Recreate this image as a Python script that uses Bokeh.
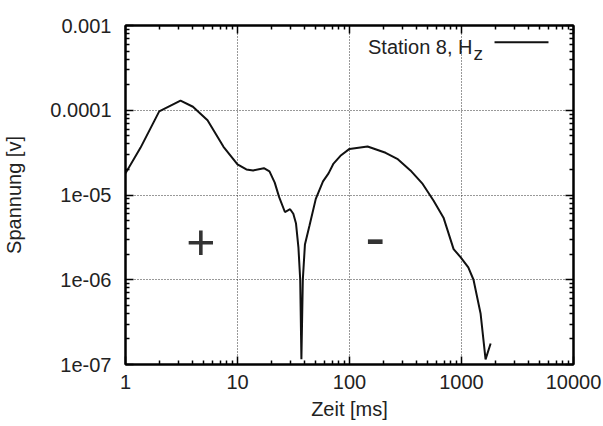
import math
from bokeh.plotting import figure
from bokeh.models import FixedTicker, LogAxis, CustomJSTickFormatter
from bokeh.core.properties import value
from bokeh.embed import file_html
from bokeh.resources import INLINE

# ---- data ----
zeit_ms = [1.0, 1.36, 2.0, 3.1, 4.0, 5.4, 7.5, 10.0, 12.0, 13.8, 17.2, 19.3, 21.5, 23.5,
           26.5, 29.5, 31.5, 33.3, 35.0, 36.3, 37.2, 38.3, 40.0, 44.0, 50.0, 58.0, 65.0,
           72.0, 83.0, 100.0, 145.0, 210.0, 267.0, 350.0, 450.0, 562.0, 691.0, 850.0,
           980.0, 1150.0, 1280.0, 1480.0, 1640.0, 1820.0]
spannung_v = [1.8e-5, 3.6e-5, 9.7e-5, 1.3e-4, 1.1e-4, 7.6e-5, 3.7e-5, 2.3e-5, 2.0e-5, 1.95e-5,
              2.07e-5, 1.9e-5, 1.4e-5, 9.5e-6, 6.3e-6, 6.8e-6, 6.0e-6, 4.6e-6, 2.4e-6, 1.0e-6,
              1.15e-7, 1.0e-6, 2.6e-6, 4.4e-6, 9.0e-6, 1.45e-5, 1.8e-5, 2.35e-5, 2.9e-5, 3.5e-5,
              3.73e-5, 3.15e-5, 2.67e-5, 1.95e-5, 1.35e-5, 8.6e-6, 5.4e-6, 2.3e-6, 1.85e-6,
              1.4e-6, 1.0e-6, 4.0e-7, 1.15e-7, 1.77e-7]

x_tick_values = [1, 10, 100, 1000, 10000]
x_tick_labels = ["1", "10", "100", "1000", "10000"]
y_tick_values = [1e-7, 1e-6, 1e-5, 1e-4, 1e-3]
y_tick_labels = ["1e-07", "1e-06", "1e-05", "0.0001", "0.001"]

x_title = "Zeit [ms]"
y_title = "Spannung [v]"
series_label = "Station 8, H"
series_sub = "z"
sign_labels = ["+", "-"]
sign_x = [4.7, 170.0]
sign_y = [2.8e-6, 3.2e-6]

FONT = "Liberation Sans"
TXT = "#222222"

p = figure(width=603, height=426, x_axis_type="log", y_axis_type="log",
           x_range=(x_tick_values[0], x_tick_values[-1]),
           y_range=(y_tick_values[0], y_tick_values[-1]),
           output_backend="svg", toolbar_location=None,
           min_border_left=125, min_border_right=30, min_border_top=25, min_border_bottom=62)
p.background_fill_color = "white"
p.border_fill_color = "white"
p.outline_line_color = "black"
p.outline_line_width = 2


def minor_for(vals):
    out = []
    for v in vals[:-1]:
        for m in range(2, 10):
            out.append(m * v)
    return out


def fmt(vals, labels):
    return CustomJSTickFormatter(
        args=dict(exps=[round(math.log10(v)) for v in vals], labels=labels),
        code="const k = Math.round(Math.log10(tick)); const i = exps.indexOf(k); return i >= 0 ? labels[i] : ' ';")


xt = FixedTicker(ticks=x_tick_values, minor_ticks=minor_for(x_tick_values))
yt = FixedTicker(ticks=y_tick_values, minor_ticks=minor_for(y_tick_values))


def style(ax, ticker, show_labels):
    ax.ticker = ticker
    ax.major_tick_in = 8
    ax.major_tick_out = 0
    ax.minor_tick_in = 4
    ax.minor_tick_out = 0
    ax.axis_line_color = "black"
    ax.axis_line_width = 2
    ax.major_tick_line_color = "black"
    ax.major_tick_line_width = 1.5
    ax.minor_tick_line_color = "black"
    ax.minor_tick_line_width = 1.5
    ax.major_label_text_font = FONT
    ax.major_label_text_color = TXT
    ax.axis_label_text_font = FONT
    ax.axis_label_text_font_style = "normal"
    ax.axis_label_text_color = TXT
    ax.axis_label_text_font_size = "20px"
    if show_labels:
        ax.major_label_text_font_size = "20px"
    else:
        ax.major_label_text_font_size = "1px"
        ax.major_label_text_alpha = 0
        ax.major_label_standoff = 0


xa = p.xaxis[0]
style(xa, xt, True)
xa.formatter = fmt(x_tick_values, x_tick_labels)
xa.axis_label = x_title
xa.major_label_standoff = 10
xa.axis_label_standoff = 6

ya = p.yaxis[0]
style(ya, yt, True)
ya.formatter = fmt(y_tick_values, y_tick_labels)
ya.axis_label = y_title
ya.major_label_standoff = 14
ya.axis_label_standoff = 22

top = LogAxis()
style(top, xt, False)
p.add_layout(top, "above")
right = LogAxis()
style(right, yt, False)
p.add_layout(right, "right")

p.xgrid.ticker = FixedTicker(ticks=x_tick_values[1:-1])
p.ygrid.ticker = FixedTicker(ticks=y_tick_values[1:-1])
for g in (p.xgrid, p.ygrid):
    g.grid_line_color = "#333333"
    g.grid_line_width = 1
    g.grid_line_dash = "1 2"

# curve
p.line(zeit_ms, spannung_v, line_color="#111111", line_width=2)

# sign annotations
p.text(x=sign_x[:1], y=sign_y[:1], text=sign_labels[:1], text_font=value(FONT),
       text_font_size="50px", text_align="center", text_baseline="middle",
       text_color="#333333")
p.text(x=sign_x[1:], y=sign_y[1:], text=sign_labels[1:], text_font=value(FONT),
       text_font_size="60px", text_align="center", text_baseline="middle",
       text_color="#333333")

# key (gnuplot style: text then sample line)
p.text(x=[1254.0], y=[5.65e-4], text=[series_label], text_font=value(FONT),
       text_font_size="20px", text_align="right", text_baseline="alphabetic", text_color=TXT)
p.text(x=[1280.0], y=[4.68e-4], text=[series_sub], text_font=value(FONT),
       text_font_size="19px", text_align="left", text_baseline="alphabetic", text_color=TXT)
p.line(x=[1972.0, 5980.0], y=[6.35e-4, 6.35e-4], line_color="#111111", line_width=2)

open("out.html", "w").write(file_html(p, INLINE))
